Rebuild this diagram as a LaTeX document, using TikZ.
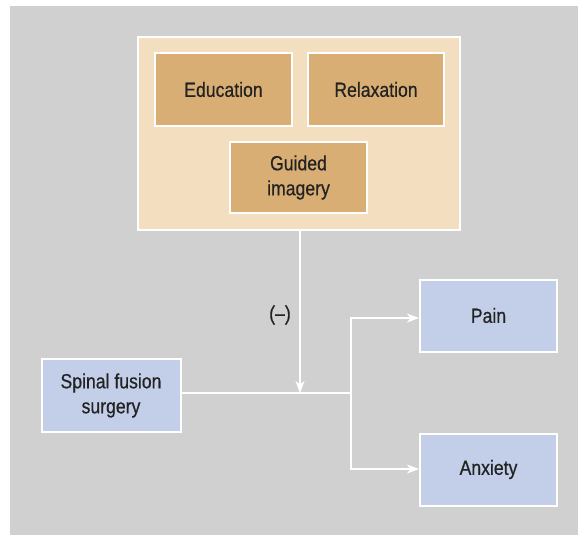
\documentclass[tikz,border=0pt]{standalone}
\usepackage{fontspec}
\setmainfont[FakeStretch=0.86,FakeBold=0.5]{Liberation Sans}
\usetikzlibrary{arrows.meta}
\definecolor{bggray}{HTML}{D0D0D0}
\definecolor{tanlight}{HTML}{F3DFC0}
\definecolor{tandark}{HTML}{D9AE74}
\definecolor{bluebox}{HTML}{C3CFE8}
\definecolor{txt}{HTML}{222222}
\begin{document}
\begin{tikzpicture}[x=1pt,y=-1pt,
  box/.style={draw=white,line width=2pt,font=\fontsize{20.5}{25}\selectfont,text=txt,align=center,inner sep=0pt},
  tanbox/.style={box,fill=tandark},
  bluebx/.style={box,fill=bluebox},
  conn/.style={draw=white,line width=2pt},
  arr/.style={conn,-{Stealth[length=12pt,width=9pt,inset=3.5pt]}}]
\useasboundingbox (0,0) rectangle (578,535);
\fill[bggray] (10,6) rectangle (578,535);
% outer container
\node[box,fill=tanlight,minimum width=322pt,minimum height=193pt] (group) at (299,133.5) {};
\node[tanbox,minimum width=137pt,minimum height=73pt] (edu) at (223.5,89.5) {Education};
\node[tanbox,minimum width=136pt,minimum height=73pt] (rel) at (376,89.5) {Relaxation};
\node[tanbox,minimum width=137pt,minimum height=71pt] (gui) at (298.5,177.5) {Guided\\imagery};
% outcome boxes
\node[bluebx,minimum width=139pt,minimum height=73pt] (spi) at (111,395.5) {Spinal fusion\\surgery};
\node[bluebx,minimum width=137pt,minimum height=72pt] (pain) at (488.5,315.5) {Pain};
\node[bluebx,minimum width=137pt,minimum height=72pt] (anx) at (488.5,469.5) {Anxiety};
% connectors
\coordinate (mid) at (300,393);
\coordinate (br) at (351,393);
\draw[arr] (group.south -| mid) -- (mid);
\node[font=\fontsize{20.5}{25}\selectfont,text=txt] (neg) at (280,315) {(–)};
\draw[conn] (spi.east |- br) -- (br);
\draw[arr] (br) |- (pain.west |- 0,318);
\draw[arr] (br) |- (anx.west |- 0,469);
\end{tikzpicture}
\end{document}
